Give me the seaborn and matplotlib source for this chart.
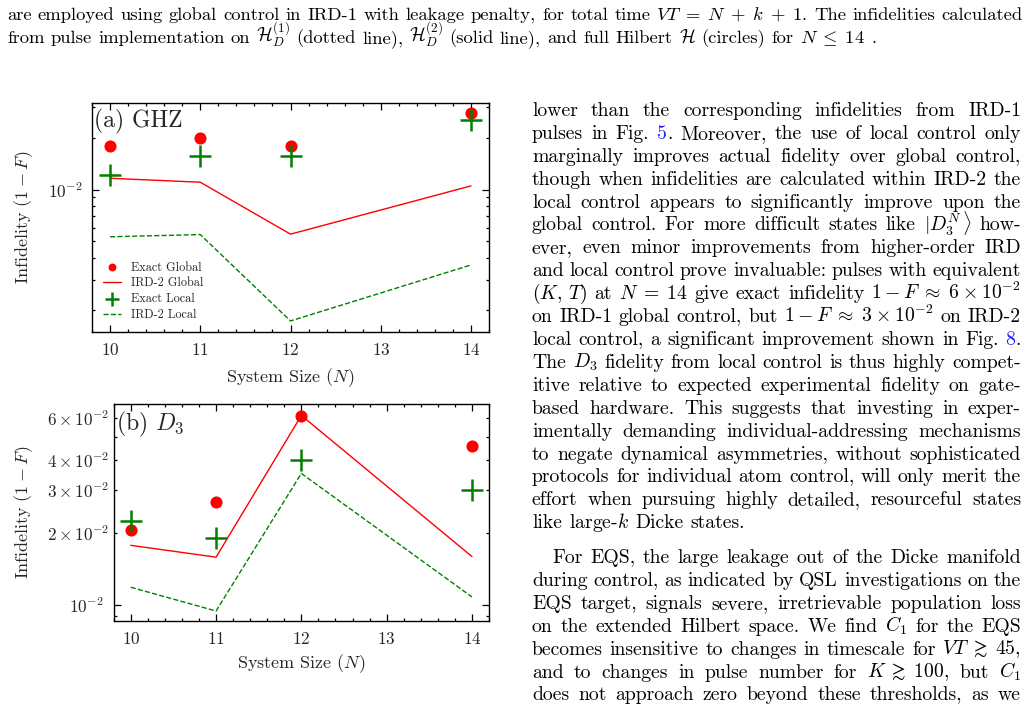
import numpy as np
import pandas as pd
import matplotlib
matplotlib.use("Agg")
import matplotlib.pyplot as plt
import seaborn as sns
from matplotlib.ticker import FixedLocator, MultipleLocator
from matplotlib.transforms import IdentityTransform

# data
N = [10, 11, 12, 14]

# (a) GHZ
ghz_exact_global = [0.0179, 0.0200, 0.0178, 0.0278]
ghz_ird2_global = [0.01163, 0.01103, 0.00551, 0.01050]
ghz_exact_local = [0.01222, 0.01574, 0.01560, 0.02531]
ghz_ird2_local = [0.00532, 0.00548, 0.001727, 0.00365]

# (b) D3
d3_exact_global = [0.0205, 0.0267, 0.0611, 0.0459]
d3_ird2_global = [0.0177, 0.0158, 0.0613, 0.0159]
d3_exact_local = [0.0224, 0.0189, 0.0400, 0.0301]
d3_ird2_local = [0.01185, 0.00944, 0.0352, 0.0108]

legend_labels = ["Exact Global", "IRD-2 Global", "Exact Local", "IRD-2 Local"]

# page text; '@' splits a word into pieces, a piece starting with '#' is a link
caption = [
    r"are employed using global control in IRD-1 with leakage penalty, for total time $VT\;=\;N\;+\;k\;+\;1$. The infidelities calculated",
    r"from pulse implementation on $\mathcal{H}_D^{(1)}$ (dotted line), $\mathcal{H}_D^{(2)}$ (solid line), and full Hilbert $\mathcal{H}$ (circles) for $N\;\leq\;14$ .",
]

para1 = [
    r"lower than the corresponding infidelities from IRD-1",
    r"pulses in Fig. #5@. Moreover, the use of local control only",
    r"marginally improves actual fidelity over global control,",
    r"though when infidelities are calculated within IRD-2 the",
    r"local control appears to significantly improve upon the",
    r"global control. For more difficult states like $|$@$D_3^N$@$\rangle$ how-",
    r"ever, even minor improvements from higher-order IRD",
    r"and local control prove invaluable: pulses with equivalent",
    r"$(K,\,T)$ at $N\;=\;14$ give exact infidelity $1\:-\:F\;\approx\;6\:\times\:10^{-2}$",
    r"on IRD-1 global control, but $1\:-\:F\;\approx\;3\:\times\:10^{-2}$ on IRD-2",
    r"local control, a significant improvement shown in Fig. #8@.",
    r"The $D_3$ fidelity from local control is thus highly compet-",
    r"itive relative to expected experimental fidelity on gate-",
    r"based hardware. This suggests that investing in exper-",
    r"imentally demanding individual-addressing mechanisms",
    r"to negate dynamical asymmetries, without sophisticated",
    r"protocols for individual atom control, will only merit the",
    r"effort when pursuing highly detailed, resourceful states",
    r"like large-$k$ Dicke states.",
]

para2 = [
    r"For EQS, the large leakage out of the Dicke manifold",
    r"during control, as indicated by QSL investigations on the",
    r"EQS target, signals severe, irretrievable population loss",
    r"on the extended Hilbert space. We find $C_1$ for the EQS",
    r"becomes insensitive to changes in timescale for $VT\;\gtrsim\;45$,",
    r"and to changes in pulse number for $K\;\gtrsim\;100$, but $C_1$",
    r"does not approach zero beyond these thresholds, as we",
]

sns.set_style("ticks")
plt.rcParams["font.family"] = ["cmr10", "DejaVu Serif"]
plt.rcParams["mathtext.fontset"] = "cm"
plt.rcParams["axes.formatter.use_mathtext"] = True
plt.rcParams["axes.unicode_minus"] = False
plt.rcParams["axes.linewidth"] = 1.0
plt.rcParams["axes.edgecolor"] = "black"

W, H = 1028, 708
fig = plt.figure(figsize=(W / 100, H / 100), dpi=100)
ax_a = fig.add_axes([92 / W, 1 - 332 / H, 397 / W, 229 / H])
ax_b = fig.add_axes([113.7 / W, 1 - 621 / H, 375.3 / W, 217 / H])


def draw_panel(ax, eg, ig, el, il, with_legend):
    lab = legend_labels if with_legend else [None] * 4
    sns.scatterplot(x=N, y=eg, ax=ax, color="red", s=76, marker="o", linewidth=0,
                    label=lab[0], legend=False, zorder=3)
    sns.lineplot(x=N, y=ig, ax=ax, color="red", lw=1.0, label=lab[1], legend=False)
    sns.scatterplot(x=N, y=el, ax=ax, color="green", s=230, marker="+", linewidth=1.8,
                    label=lab[2], legend=False, zorder=3)
    sns.lineplot(x=N, y=il, ax=ax, color="green", lw=1.0, ls="--", label=lab[3], legend=False)
    ax.set_yscale("log")
    ax.set_xlim(9.8, 14.2)
    ax.xaxis.set_major_locator(FixedLocator([10, 11, 12, 13, 14]))
    ax.xaxis.set_minor_locator(MultipleLocator(0.2))
    ax.tick_params(which="both", direction="in", top=True, right=True, labelsize=12.3,
                   width=0.9, color="black")
    ax.tick_params(which="major", length=5, pad=7)
    ax.tick_params(which="minor", length=2.5)
    ax.set_xlabel(r"System Size ($N$)", fontsize=13)
    ax.set_ylabel(r"Infidelity $(1\:-\:F)$", fontsize=13)


draw_panel(ax_a, ghz_exact_global, ghz_ird2_global, ghz_exact_local, ghz_ird2_local, True)
ax_a.set_ylim(1.49e-3, 3.18e-2)
ax_a.text(0.005, 0.975, "(a) GHZ", transform=ax_a.transAxes, va="top", ha="left", fontsize=17)
ax_a.legend(loc="lower left", frameon=False, fontsize=8.8, markerscale=0.65,
            handlelength=1.5, labelspacing=0.3, borderaxespad=0.5)
ax_a.yaxis.set_label_coords(-0.143, 0.5)
ax_a.xaxis.set_label_coords(0.5, -0.15)

draw_panel(ax_b, d3_exact_global, d3_ird2_global, d3_exact_local, d3_ird2_local, False)
ax_b.set_ylim(8.58e-3, 6.84e-2)
ax_b.text(0.005, 0.975, r"(b) $D_3$", transform=ax_b.transAxes, va="top", ha="left", fontsize=17)
ax_b.yaxis.set_label_coords(-0.209, 0.5)
ax_b.xaxis.set_label_coords(0.5, -0.145)

# surrounding page text, justified word by word
renderer = fig.canvas.get_renderer()
LINK = "#1f1fff"


def split_words(line):
    out, cur, inmath = [], "", False
    for ch in line:
        if ch == "$":
            inmath = not inmath
        if ch == " " and not inmath:
            if cur:
                out.append(cur)
            cur = ""
        else:
            cur += ch
    if cur:
        out.append(cur)
    return out


def put_line(text, x0, x1, base, size, justify=True):
    words = []
    for w in split_words(text):
        objs = []
        for p in w.split("@"):
            color = "black"
            if p.startswith("#"):
                p, color = p[1:], LINK
            if not p:
                continue
            t = fig.text(0, 0, p, fontsize=size, color=color,
                         transform=IdentityTransform(), va="baseline", ha="left")
            objs.append((t, t.get_window_extent(renderer).width))
        words.append(objs)
    widths = [sum(wd for _, wd in objs) for objs in words]
    space = size * 100 / 72 * 0.333
    if justify and len(words) > 1:
        space = max((x1 - x0 - sum(widths)) / (len(words) - 1), 2)
    x = x0
    for objs, wd in zip(words, widths):
        xx = x
        for t, pw in objs:
            t.set_position((xx, H - base))
            xx += pw
        x += wd + space


put_line(caption[0], 7, 1022, 20, 13.4)
put_line(caption[1], 7, 1022, 43, 13.4, justify=False)

for i, line in enumerate(para1):
    put_line(line, 532, 1021, 116 + 22.9 * i, 14.2, justify=(i < len(para1) - 1))
for i, line in enumerate(para2):
    x0 = 552 if i == 0 else 532
    put_line(line, x0, 1021, 563 + 22.9 * i, 14.2)

fig.savefig("out.png", dpi=100, facecolor="white")
